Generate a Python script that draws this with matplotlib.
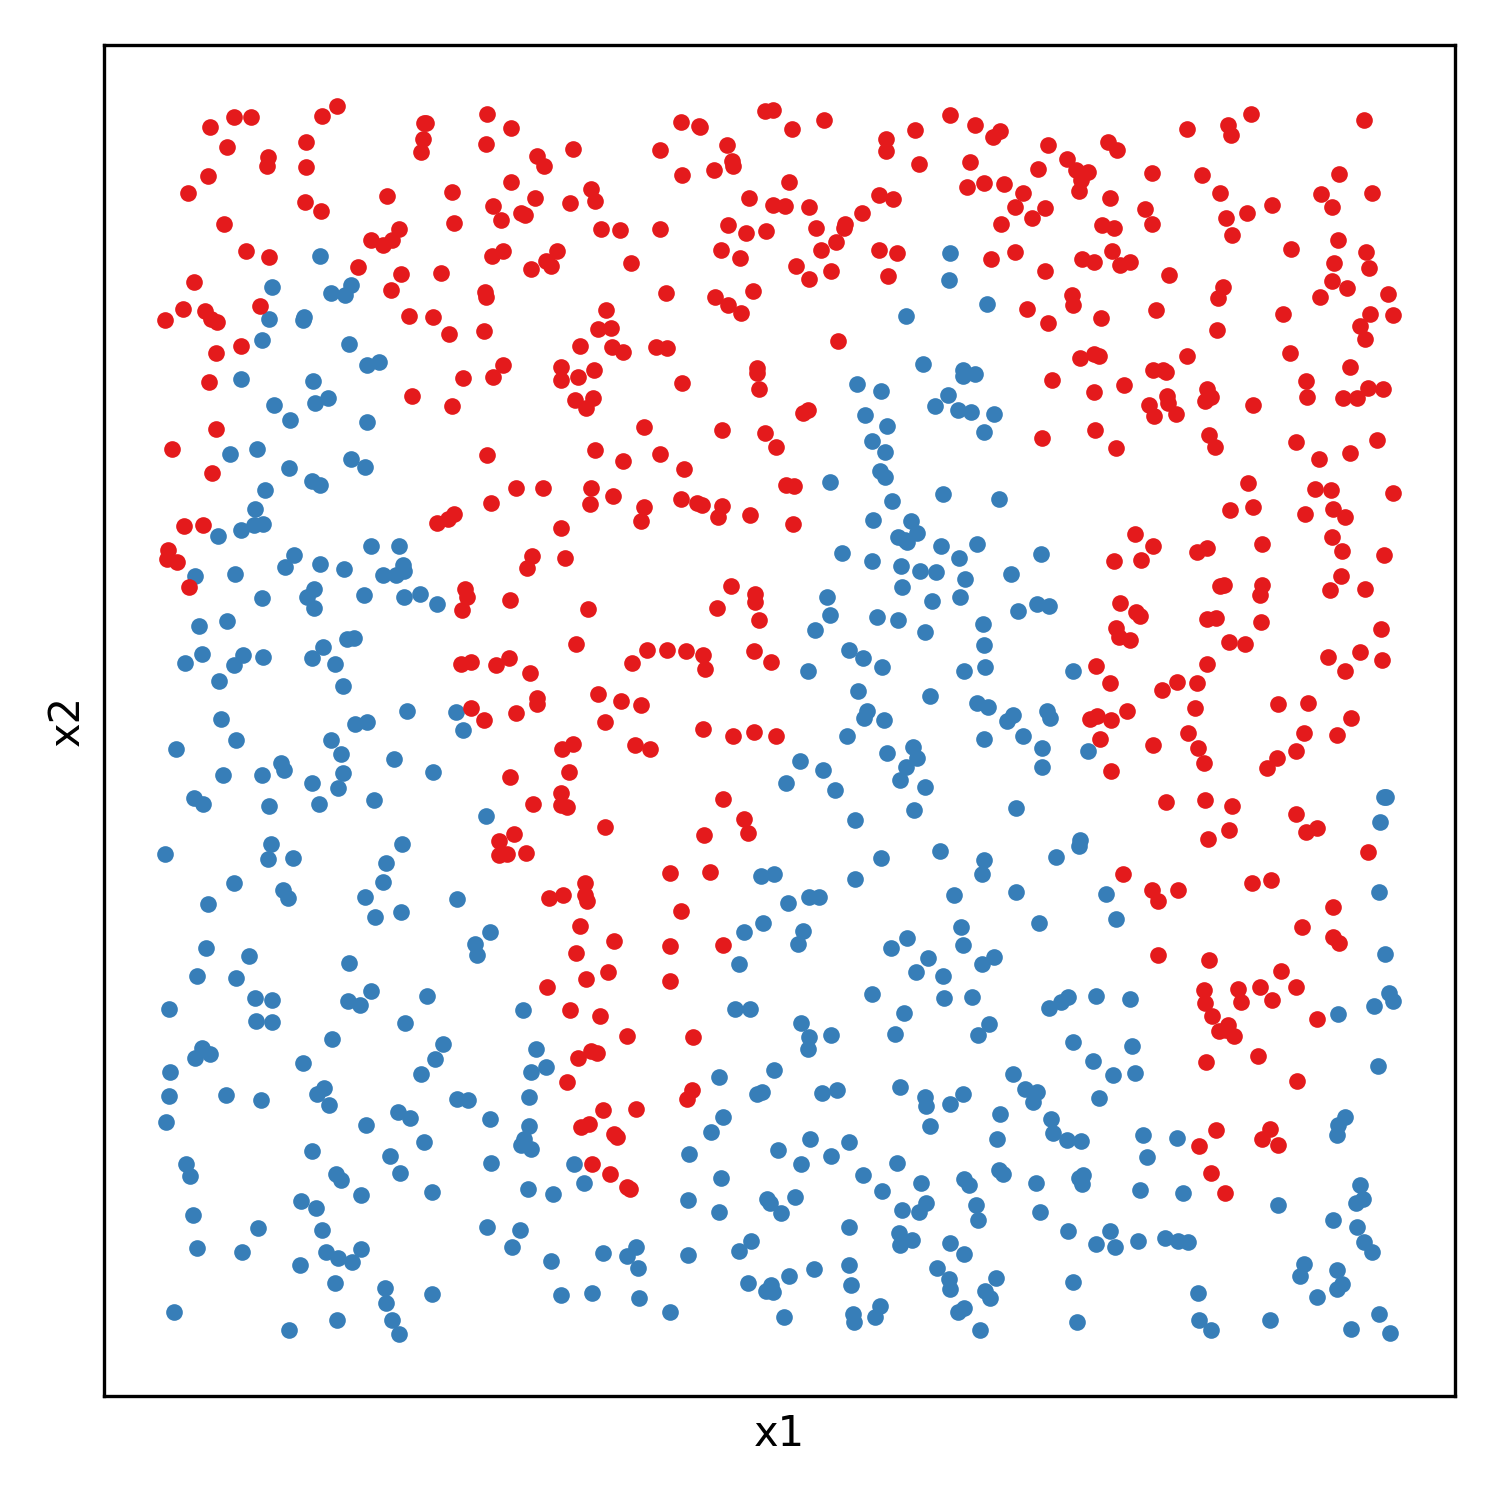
import numpy as np
import matplotlib
matplotlib.use("Agg")
import matplotlib.pyplot as plt

# values, in the reference's own image units
red_points = [
    (210,127),(234,117),(251,117),(227,147),(268,157),(267,166),(208,176),(188,193),(224,224),(246,251),
    (269,257),(194,282),(183,309),(165,320),(205,311),(211,319),(217,322),(260,306),(241,346),(216,353),
    (209,382),(216,429),(172,449),(212,473),(184,526),(203,525),(168,550),(167,559),(177,562),(189,587),
    (322,116),(337,106),(306,142),(306,167),(305,202),(321,211),(387,196),(371,240),(383,245),(392,240),
    (399,229),(358,267),(401,274),(391,290),(409,316),(433,317),(441,273),(449,334),(463,378),(412,396),
    (452,406),(426,123),(424,123),(423,139),(421,152),(487,114),(486,144),(511,128),(452,192),(454,223),
    (493,206),(511,182),(501,220),(521,213),(525,215),(535,198),(537,156),(544,166),(573,149),(570,203),
    (591,189),(595,201),(601,229),(620,230),(557,251),(503,251),(492,256),(531,269),(546,261),(551,266),
    (485,292),(486,297),(484,331),(503,365),(493,377),(561,367),(561,380),(578,377),(594,370),(580,346),
    (598,329),(611,328),(606,310),(612,347),(623,352),(631,263),(660,229),(660,150),(681,122),(699,126),
    (700,127),(682,175),(714,170),(732,161),(733,166),(727,145),(749,198),(728,225),(746,233),(766,231),
    (721,250),(740,258),(753,291),(715,297),(728,305),(741,313),(666,293),(656,347),(667,348),(682,383),
    (765,111),(773,110),(792,129),(824,120),(789,182),(773,205),(785,206),(809,207),(816,228),(845,224),
    (844,228),(862,213),(879,195),(893,199),(836,242),(821,250),(796,266),(809,279),(831,271),(879,250),
    (897,253),(888,276),(838,341),(886,139),(886,151),(915,130),(919,164),(950,115),(975,125),(993,137),
    (1000,131),(970,162),(967,187),(984,183),(1004,184),(1023,193),(1015,207),(1045,208),(1038,169),(1048,145),
    (1067,159),(1076,170),(1088,172),(1081,180),(1079,191),(1110,198),(1108,142),(1117,150),(1152,173),(1145,209),
    (1152,224),(1187,129),(1202,175),(1220,193),(1226,218),(1232,235),(1228,125),(1231,135),(1251,114),(1247,213),
    (1272,205),(1321,194),(1332,207),(1339,174),(1372,193),(1364,120),(1001,224),(1032,218),(991,259),(1015,252),
    (1102,225),(1114,228),(1112,251),(1082,259),(1094,262),(1120,265),(1130,262),(1045,271),(1169,275),(1072,295),
    (1073,305),(1101,318),(1027,309),(1048,323),(1156,310),(1223,287),(1218,298),(1217,330),(1291,249),(1338,240),
    (1334,263),(1366,252),(1369,268),(1332,281),(1347,288),(1320,297),(1388,294),(1283,314),(1370,314),(1393,315),
    (1360,326),(1365,339),(1290,353),(1350,367),(1080,358),(1094,354),(1099,356),(1052,380),(1094,392),(1124,385),
    (1187,356),(1153,370),(1163,370),(1166,372),(1207,389),(1211,397),(1205,401),(1149,405),(1167,396),(1168,403),
    (1154,416),(1176,414),(1095,430),(1116,448),(1042,438),(1253,405),(1306,381),(1307,397),(1343,398),(1357,398),
    (1368,388),(1383,389),(1209,435),(1215,447),(1296,442),(1319,459),(1377,440),(1350,453),(1248,483),(1230,510),
    (1253,507),(1315,489),(1331,490),(1305,514),(1333,509),(1345,517),(1393,493),(1135,534),(1153,546),(1114,561),
    (1141,560),(1197,552),(1207,548),(1262,544),(1332,537),(1342,551),(1384,555),(1341,576),(1365,589),(1330,590),
    (1220,586),(1224,585),(1262,585),(1260,595),(1120,603),(1136,612),(1140,616),(1207,619),(1216,618),(1261,622),
    (1116,628),(1119,637),(1130,640),(1229,642),(1245,644),(1381,629),(1328,657),(1360,652),(1382,660),(1345,671),
    (1096,666),(1110,683),(1207,664),(1177,682),(1197,683),(1162,690),(1278,704),(1308,703),(1195,708),(1127,711),
    (1090,719),(1097,716),(1111,720),(1351,718),(1304,733),(1337,735),(1188,733),(1100,739),(1153,745),(1198,748),
    (1204,763),(1296,751),(1277,758),(1267,768),(1111,771),(1166,802),(1205,800),(1232,806),(1296,814),(1306,832),
    (1317,828),(1229,830),(1208,839),(1368,852),(1123,874),(1152,890),(1178,890),(1158,901),(1252,883),(1271,880),
    (1333,907),(1302,927),(1333,937),(1339,943),(1158,955),(1209,960),(1281,971),(1204,990),(1238,989),(1260,987),
    (1296,987),(1205,1003),(1241,1002),(1272,1000),(1212,1016),(1317,1019),(1228,1025),(1226,1030),(1219,1031),(1234,1036),
    (1206,1062),(1258,1056),(1297,1081),(1216,1130),(1270,1129),(1262,1139),(1278,1145),(1199,1146),(1211,1173),(1225,1193),
    (644,427),(595,450),(623,461),(660,454),(684,469),(722,430),(765,433),(776,447),(803,413),(808,410),
    (757,368),(757,373),(759,389),(575,400),(593,398),(586,408),(487,455),(491,503),(516,488),(543,488),
    (591,488),(590,504),(613,496),(644,507),(641,521),(681,499),(697,503),(702,505),(722,506),(718,517),
    (750,515),(786,485),(794,486),(793,524),(437,523),(448,519),(454,514),(561,528),(532,556),(527,568),
    (565,558),(465,589),(467,597),(462,610),(510,600),(588,609),(731,586),(755,594),(755,602),(717,608),
    (759,620),(576,644),(461,664),(471,662),(496,665),(509,658),(530,673),(632,663),(647,650),(667,650),
    (686,651),(703,655),(705,669),(754,651),(771,662),(537,698),(537,704),(598,694),(621,701),(641,705),
    (471,708),(484,720),(516,713),(605,722),(703,729),(733,736),(754,732),(776,736),(635,745),(650,749),
    (573,744),(562,749),(569,772),(510,777),(561,793),(561,805),(567,807),(533,804),(723,799),(744,819),
    (748,833),(704,835),(605,827),(514,834),(499,841),(499,855),(507,854),(526,853),(585,883),(585,895),
    (587,901),(563,895),(549,898),(670,873),(710,872),(681,911),(580,926),(614,941),(576,953),(670,946),
    (723,945),(586,979),(608,972),(670,981),(547,987),(570,1010),(600,1016),(627,1036),(693,1037),(578,1058),
    (591,1051),(597,1053),(567,1082),(692,1090),(687,1099),(603,1110),(636,1109),(581,1127),(589,1124),(614,1134),
    (617,1137),(592,1164),(610,1174),(627,1187),(630,1189),
]

blue_points = [
    (320,256),(272,287),(331,293),(345,295),(351,285),(269,319),(303,320),(304,317),(262,340),(349,344),
    (367,365),(379,362),(241,379),(313,381),(274,405),(315,403),(328,398),(290,420),(367,422),(230,454),
    (257,449),(351,459),(365,467),(289,468),(312,481),(320,485),(265,490),(255,509),(254,525),(263,524),
    (241,530),(218,536),(371,546),(399,546),(294,555),(285,567),(320,564),(344,569),(195,576),(235,574),
    (383,575),(396,575),(403,565),(404,571),(314,589),(307,597),(262,598),(364,595),(404,597),(420,594),
    (437,604),(314,608),(199,626),(227,621),(323,647),(347,639),(354,638),(185,663),(202,654),(243,655),
    (234,665),(263,657),(312,658),(335,664),(219,681),(343,686),(221,719),(355,724),(367,722),(407,711),
    (456,712),(463,730),(236,740),(331,740),(176,749),(341,754),(281,763),(284,770),(394,759),(223,775),
    (262,775),(343,773),(433,772),(312,783),(338,788),(194,798),(203,804),(269,806),(319,804),(374,800),
    (486,816),(271,844),(402,844),(268,859),(293,858),(165,854),(386,863),(234,883),(383,882),(283,890),
    (288,898),(208,904),(365,897),(457,899),(375,917),(401,912),(490,932),(475,944),(477,955),(206,948),
    (249,956),(349,963),(197,976),(236,978),(371,991),(255,998),(272,1000),(348,1001),(360,1005),(427,996),
    (169,1009),(523,1010),(256,1021),(272,1022),(405,1023),(332,1039),(443,1044),(202,1048),(195,1058),(210,1054),
    (303,1063),(435,1059),(536,1049),(170,1072),(421,1074),(531,1072),(546,1067),(324,1088),(169,1096),(226,1095),
    (261,1100),(317,1094),(329,1105),(457,1099),(468,1100),(529,1097),(398,1112),(410,1118),(166,1122),(366,1125),
    (490,1119),(529,1126),(424,1142),(524,1139),(521,1145),(531,1149),(312,1151),(390,1156),(186,1164),(190,1176),
    (491,1163),(574,1164),(336,1174),(341,1180),(400,1173),(432,1192),(361,1195),(528,1189),(553,1194),(584,1183),
    (301,1201),(316,1208),(193,1215),(258,1228),(322,1230),(487,1227),(520,1230),(197,1248),(242,1252),(326,1252),
    (338,1258),(352,1262),(361,1249),(512,1247),(551,1261),(300,1265),(603,1253),(627,1256),(636,1247),(638,1268),
    (335,1283),(385,1288),(432,1294),(561,1295),(592,1293),(639,1298),(174,1312),(386,1303),(392,1320),(337,1320),
    (289,1330),(399,1334),(670,1312),
    (950,253),(949,280),(987,304),(906,316),(923,364),(963,370),(963,376),(975,374),(857,384),(881,391),
    (948,395),(935,406),(958,410),(971,412),(994,414),(865,415),(887,426),(984,432),(872,441),(885,452),
    (880,471),(885,477),(830,482),(943,494),(892,501),(999,499),(873,520),(911,521),(898,537),(917,533),
    (905,540),(907,542),(941,546),(977,544),(842,553),(872,561),(959,558),(901,566),(920,571),(936,572),
    (1041,554),(1011,574),(965,579),(902,587),(827,597),(932,601),(960,597),(1037,604),(1049,606),(1018,611),
    (830,615),(877,617),(898,620),(815,630),(983,624),(925,632),(984,645),(849,650),(863,658),(808,671),
    (882,667),(964,671),(985,667),(1073,671),(858,691),(930,696),(977,703),(988,707),(867,711),(864,718),
    (884,720),(1047,711),(1050,718),(1013,715),(1007,721),(847,736),(984,739),(1023,736),(1042,748),(887,753),
    (913,747),(917,758),(1088,751),(800,761),(823,770),(906,767),(1042,767),(900,780),(786,783),(835,790),
    (925,787),(914,810),(1016,808),(855,820),(1384,797),(1386,797),(1380,822),(1080,840),(1079,846),(940,851),
    (881,858),(1056,857),(984,860),(761,876),(774,874),(982,874),(855,879),(1016,892),(954,895),(1106,894),
    (1379,892),(788,903),(809,897),(819,897),(1116,919),(1039,923),(763,923),(961,927),(744,932),(803,931),
    (798,944),(907,938),(891,948),(963,945),(928,958),(994,957),(982,964),(739,964),(1385,954),(916,972),
    (943,976),(872,994),(944,998),(972,997),(1068,997),(1096,996),(1130,999),(1061,1002),(1049,1008),(1389,993),
    (1393,1001),(1374,1006),(735,1009),(750,1009),(904,1013),(1338,1014),(801,1023),(989,1024),(895,1034),(978,1035),
    (809,1037),(831,1035),(808,1049),(1073,1042),(1132,1046),(1093,1061),(1378,1066),(774,1070),(719,1077),(1013,1074),
    (1113,1075),(1135,1073),(900,1087),(1025,1089),(1037,1092),(1033,1102),(822,1093),(837,1090),(757,1094),(762,1092),
    (925,1097),(926,1106),(963,1094),(950,1104),(1099,1098),(1000,1114),(723,1117),(1051,1119),(1345,1117),(1338,1125),
    (1337,1135),(930,1126),(711,1132),(1053,1133),(1067,1140),(1081,1141),(997,1139),(1143,1135),(1177,1138),(810,1139),
    (849,1142),(778,1150),(689,1154),(831,1156),(1147,1157),(801,1164),(897,1163),(999,1170),(1003,1174),(721,1178),
    (863,1175),(1079,1178),(1083,1175),(1082,1184),(964,1179),(969,1185),(921,1183),(1036,1183),(882,1191),(1140,1190),
    (1183,1193),(1360,1185),(1363,1199),(1356,1203),(688,1200),(767,1199),(770,1203),(795,1197),(926,1203),(976,1205),
    (719,1212),(781,1213),(902,1210),(919,1212),(1040,1212),(1278,1205),(978,1220),(849,1227),(1333,1220),(1357,1227),
    (899,1233),(1068,1231),(1110,1231),(900,1245),(912,1240),(751,1241),(950,1243),(1096,1244),(1115,1247),(1138,1241),
    (1165,1238),(1178,1241),(1188,1242),(1364,1242),(1372,1252),(739,1251),(688,1255),(964,1254),(849,1265),(1304,1264),
    (937,1268),(814,1269),(1337,1270),(1300,1276),(789,1276),(996,1278),(949,1279),(748,1283),(1073,1282),(851,1285),
    (771,1285),(950,1289),(1342,1284),(1337,1289),(766,1291),(773,1292),(985,1291),(990,1298),(1198,1293),(1317,1297),
    (880,1306),(964,1308),(958,1312),(853,1314),(1379,1314),(854,1322),(875,1317),(784,1317),(1077,1322),(1199,1320),
    (1270,1320),(1211,1330),(980,1330),(1351,1329),(1390,1333),
]

red = np.array(red_points)
blue = np.array(blue_points)

fig, ax = plt.subplots(figsize=(5, 5), dpi=300)
fig.subplots_adjust(left=104/1500, right=1455/1500, top=1-45/1500, bottom=1-1396/1500)

ax.scatter(blue[:, 0], blue[:, 1], s=16, c="#377eb8", linewidths=0)
ax.scatter(red[:, 0], red[:, 1], s=16, c="#e41a1c", linewidths=0)

ax.set_xlim(104, 1455)
ax.set_ylim(1396, 45)
ax.set_xticks([])
ax.set_yticks([])
ax.set_xlabel("x1")
ax.set_ylabel("x2")

plt.savefig("out.png", dpi=300)
